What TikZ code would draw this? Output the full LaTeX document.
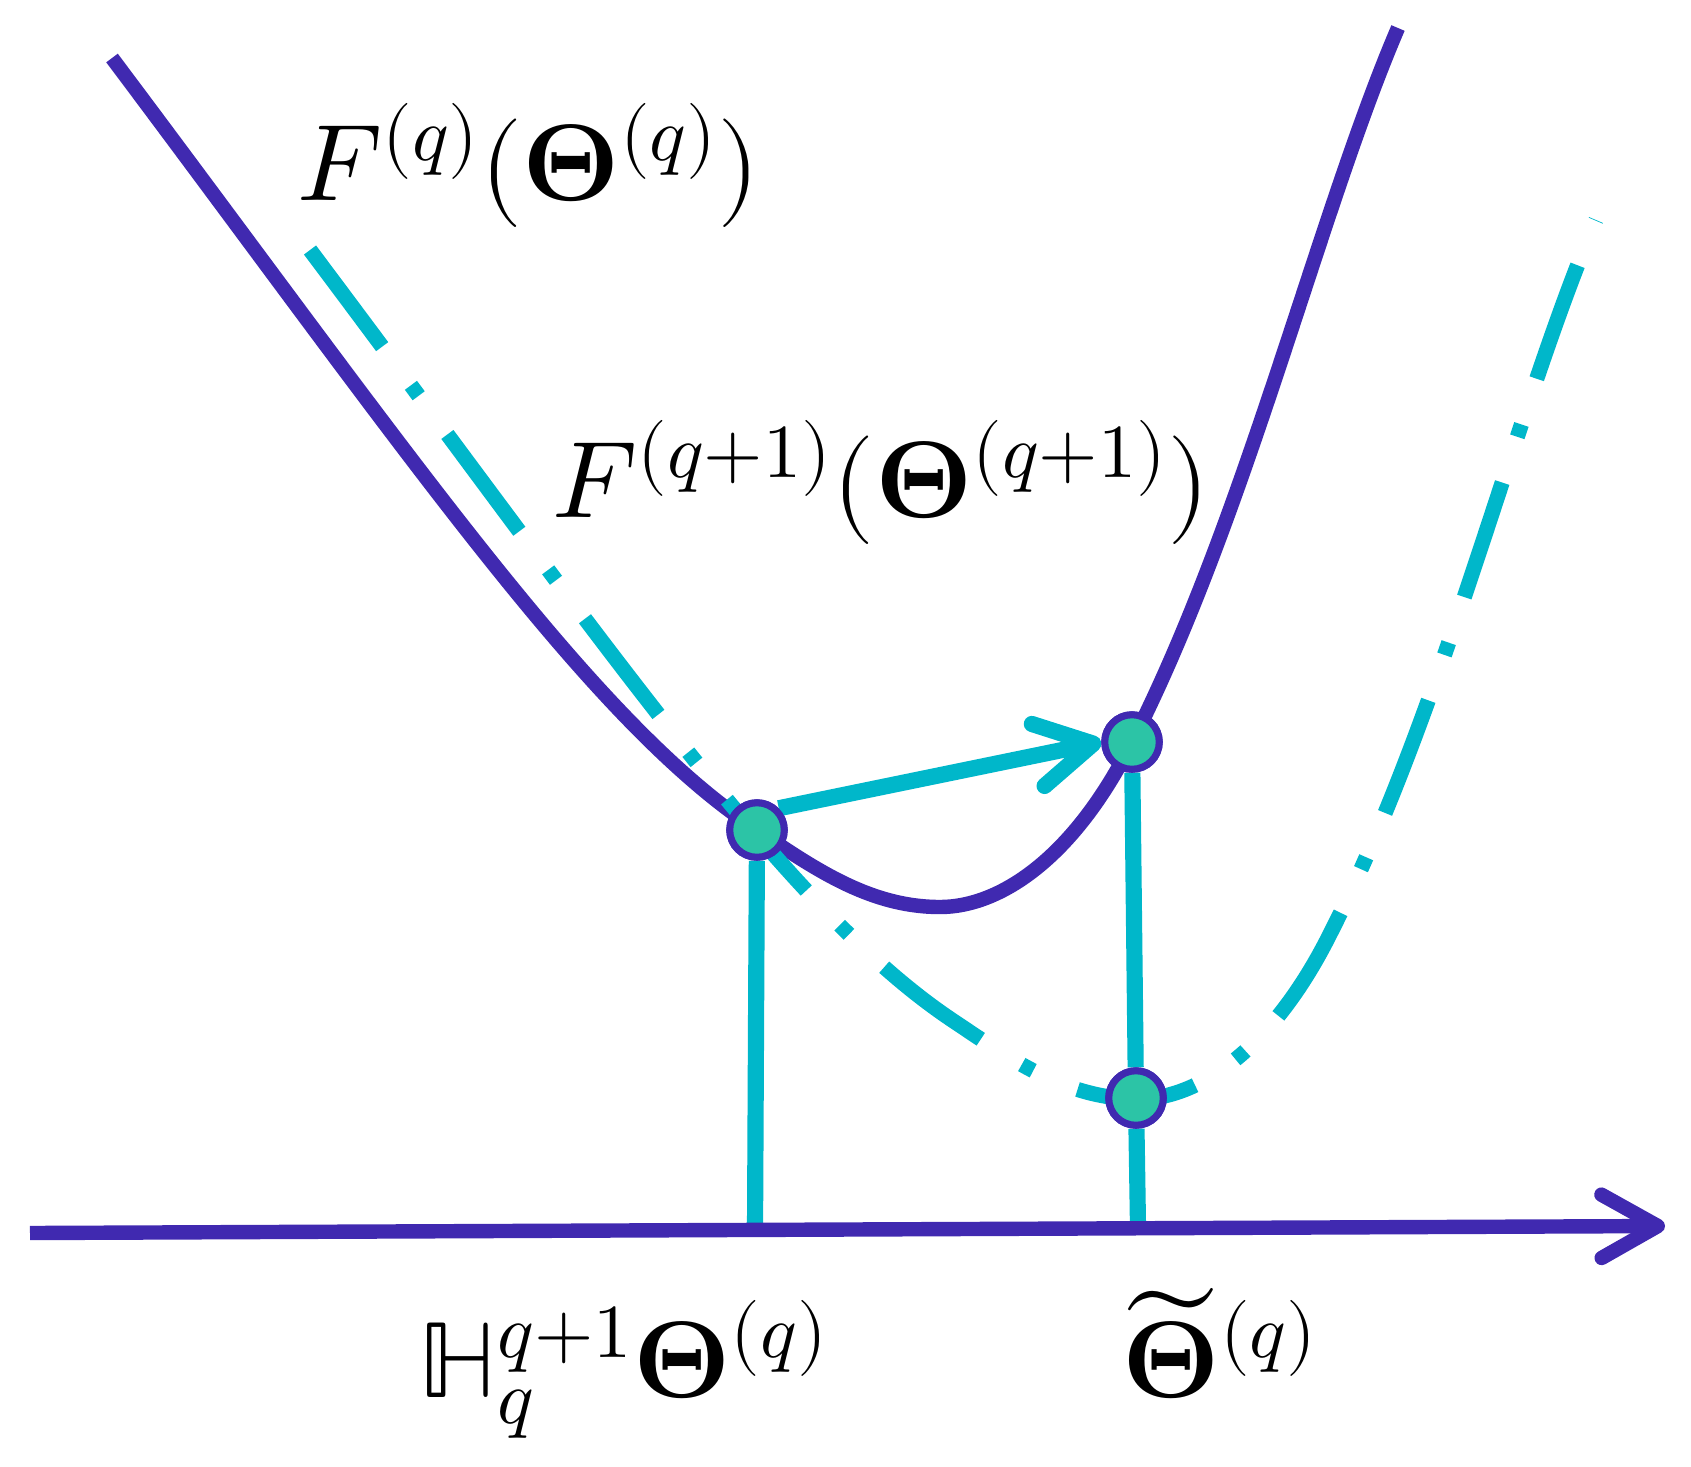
\documentclass[tikz,border=0pt]{standalone}
\usepackage{unicode-math}
\usetikzlibrary{arrows.meta}
\definecolor{lossPurple}{RGB}{64,41,176}
\definecolor{iterCyan}{RGB}{0,183,202}
\definecolor{iterGreen}{RGB}{44,196,166}
\tikzset{
  fcurve/.style={draw=lossPurple, line width=4.1pt},
  gcurve/.style={draw=iterCyan, line width=4.3pt, dash pattern=on 34.3pt off 13.7pt on 3.7pt off 13.7pt},
  drop/.style={draw=iterCyan, line width=4.6pt},
  barb/.style={-{Straight Barb[length=16pt,width=18pt,round]}},
  iter/.style={circle, fill=iterGreen, draw=lossPurple, line width=2pt, minimum size=15.5pt, inner sep=0pt},
  lbl/.style={font=\fontsize{31}{36}\selectfont, inner sep=0pt, anchor=base west}
}
\newcommand{\drawloss}[1]{\draw[#1] (112,58)
  .. controls (412,458) and (590,720) .. (757,830)
  .. controls (815,869) and (870,907) .. (940,907)
  .. controls (1000,907) and (1074,858) .. (1132,742)
  .. controls (1245,520) and (1319,212) .. (1398,28);}
\begin{document}
\begin{tikzpicture}[x=0.01cm, y=-0.01cm]
  \useasboundingbox (0,0) rectangle (1691,1466);
  \drawloss{fcurve}
  \drawloss{gcurve, shift={(198,192)}}
  \node[iter] (p1) at (757,830) {};
  \node[iter] (p2) at (1132,742) {};
  \node[iter] (p3) at (1136,1098) {};
  \coordinate (a0) at (30,1233);
  \coordinate (a1) at (1665,1226);
  \coordinate (b1) at (755,1231);
  \coordinate (b3) at (1138,1227);
  \draw[drop] (p1) -- (b1);
  \draw[drop] (p2) -- (p3);
  \draw[drop] (p3) -- (b3);
  \draw[fcurve, barb] (a0) -- (a1);
  \draw[drop, barb] (p1.north east) -- (p2.west);
  \node[iter] at (p1) {};
  \node[iter] at (p2) {};
  \node[iter] at (p3) {};
  \node[lbl] (fq) at (297,200) {$F^{(q)}(\symbf{\Theta}^{(q)})$};
  \node[lbl] (fq1) at (552,517) {$F^{(q+1)}(\symbf{\Theta}^{(q+1)})$};
  \node[lbl] (hq) at (418,1397) {$\mathbb{H}_q^{q+1}\symbf{\Theta}^{(q)}$};
  \node[lbl] (tq) at (1122,1397) {$\widetilde{\symbf{\Theta}}^{(q)}$};
\end{tikzpicture}
\end{document}
